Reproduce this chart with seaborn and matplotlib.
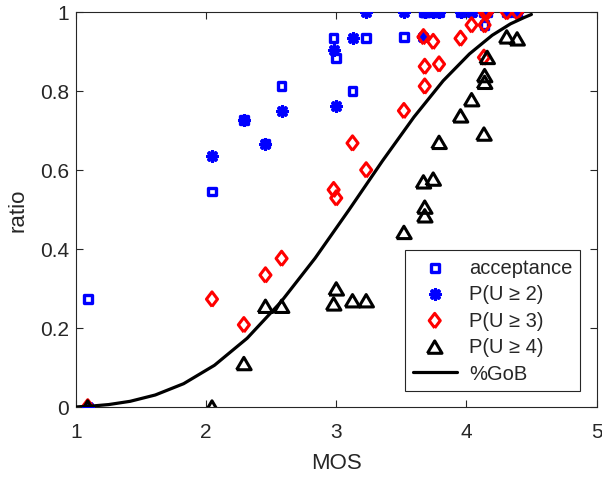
import numpy as np
import matplotlib
matplotlib.use("Agg")
import matplotlib.pyplot as plt
import seaborn as sns

# ----------------------------
# Data
# ----------------------------
mos = [1.09, 2.045, 2.29, 2.456, 2.58, 2.98, 3.0, 3.125, 3.23, 3.52,
       3.67, 3.68, 3.68, 3.745, 3.79, 3.955, 4.04, 4.14, 4.14, 4.135,
       4.16, 4.31, 4.39]

acceptance = [0.273, 0.546, 0.727, 0.667, 0.813, 0.934, 0.883, 0.80, 0.934, 0.937,
              1.0, 1.0, 1.0, 1.0, 1.0, 1.0, 1.0, 0.967, 1.0, 1.0,
              1.0, 1.0, 1.0]
p_u2 = [0.0, 0.636, 0.727, 0.667, 0.75, 0.905, 0.763, 0.934, 1.0, 1.0,
        0.937, 1.0, 1.0, 1.0, 1.0, 1.0, 1.0, 1.0, 1.0, 1.0,
        1.0, 1.0, 1.0]
p_u3 = [0.0, 0.273, 0.208, 0.334, 0.376, 0.55, 0.529, 0.668, 0.60, 0.75,
        0.937, 0.862, 0.812, 0.925, 0.868, 0.933, 0.967, 0.967, 1.0, 0.885,
        1.0, 1.0, 1.0]
p_u4 = [0.0, 0.0, 0.11, 0.255, 0.255, 0.261, 0.299, 0.269, 0.269, 0.442,
        0.57, 0.506, 0.484, 0.577, 0.67, 0.737, 0.778, 0.839, 0.822, 0.691,
        0.885, 0.937, 0.932]

# %GoB curve
gob_mos = [1.0, 1.035, 1.123, 1.252, 1.416, 1.609, 1.827, 2.064, 2.315, 2.575,
           2.838, 3.1, 3.355, 3.597, 3.822, 4.024, 4.198, 4.339, 4.441, 4.5]
gob = [0.0001, 0.0009, 0.0025, 0.0062, 0.0144, 0.0304, 0.059, 0.1056, 0.174, 0.266,
       0.377, 0.5, 0.623, 0.734, 0.826, 0.894, 0.941, 0.970, 0.9856, 0.9938]

labels = ["acceptance", "P(U \u2265 2)", "P(U \u2265 3)", "P(U \u2265 4)", "%GoB"]

# ----------------------------
# Style
# ----------------------------
sns.set_theme(style="ticks")
plt.rcParams["font.family"] = ["Liberation Sans", "DejaVu Sans"]
plt.rcParams["axes.edgecolor"] = "#262626"

fig = plt.figure(figsize=(6.02, 4.81), dpi=100)
ax = fig.add_axes([76 / 602, 73 / 481, 520.5 / 602, 395 / 481])

diamond = [(0, -1), (0.76, 0), (0, 1), (-0.76, 0), (0, -1)]
triangle = [(-1, -0.85), (1, -0.85), (0, 0.85), (-1, -0.85)]

sns.scatterplot(x=mos, y=acceptance, marker="s", s=30, color="blue",
                facecolor="none", edgecolor="blue", linewidth=2.4,
                label=labels[0], ax=ax, zorder=3)
sns.scatterplot(x=mos, y=p_u2, marker=(8, 2, 0), s=45, color="blue",
                linewidth=2.6, label=labels[1], ax=ax, zorder=3)
sns.scatterplot(x=mos, y=p_u3, marker=diamond, s=110, color="red",
                facecolor="none", edgecolor="red", linewidth=2.2,
                label=labels[2], ax=ax, zorder=3)
sns.scatterplot(x=mos, y=p_u4, marker=triangle, s=110, color="black",
                facecolor="none", edgecolor="black", linewidth=2.2,
                label=labels[3], ax=ax, zorder=3)
sns.lineplot(x=gob_mos, y=gob, color="black", linewidth=2.3, sort=False,
             estimator=None, label=labels[4], ax=ax, zorder=4)

ax.set_xlim(1, 5)
ax.set_ylim(0, 1)
ax.set_xticks([1, 2, 3, 4, 5])
ax.set_yticks([0, 0.2, 0.4, 0.6, 0.8, 1])
ax.set_yticklabels(["0", "0.2", "0.4", "0.6", "0.8", "1"])
ax.tick_params(direction="in", top=True, right=True, length=5, width=0.8,
               colors="#262626", labelsize=15)
ax.tick_params(axis="x", pad=11)
ax.tick_params(axis="y", pad=5)
for sp in ax.spines.values():
    sp.set_visible(True)
    sp.set_linewidth(0.8)
    sp.set_color("#262626")

ax.set_xlabel("MOS", fontsize=16, color="#262626", labelpad=8)
ax.set_ylabel("ratio", fontsize=16, color="#262626", labelpad=8)

leg = ax.legend(loc="lower right", fontsize=14.5, frameon=True, fancybox=False,
                framealpha=1, edgecolor="#262626", borderaxespad=0.8,
                handlelength=2.2, labelspacing=0.37, borderpad=0.4,
                handletextpad=0.6)
leg.get_frame().set_linewidth(0.8)

fig.savefig("out.png", dpi=100)
